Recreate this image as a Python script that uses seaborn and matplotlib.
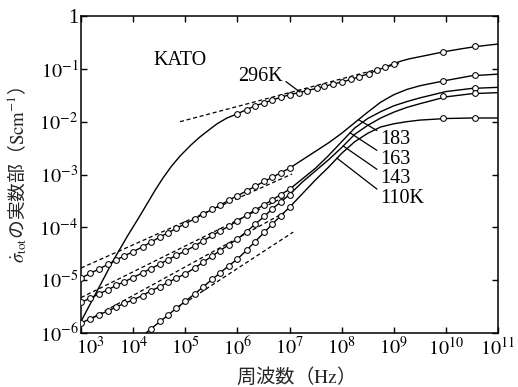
import numpy as np
import matplotlib
matplotlib.use("Agg")
import matplotlib.pyplot as plt
import matplotlib.transforms as mtransforms
import seaborn as sns

# ---------------------------------------------------------------
# Data: log10(frequency / Hz) and log10(conductivity / S cm^-1)
# ---------------------------------------------------------------
# measured points below 10 MHz (shared frequency grid)
log_f_low = [3.00, 3.18, 3.34, 3.52, 3.67, 3.83, 4.00, 4.18, 4.34, 4.52,
             4.67, 4.83, 5.00, 5.18, 5.34, 5.52, 5.67, 5.83, 6.00, 6.18,
             6.34, 6.52, 6.67, 6.83, 7.00]
log_s_183_low = [-4.96, -4.87, -4.79, -4.70, -4.62, -4.54, -4.46, -4.37, -4.28, -4.18,
                 -4.10, -4.02, -3.93, -3.84, -3.75, -3.66, -3.58, -3.49, -3.40, -3.31,
                 -3.22, -3.13, -3.05, -2.97, -2.88]
log_s_163_low = [-5.42, -5.34, -5.26, -5.18, -5.10, -5.03, -4.95, -4.86, -4.78, -4.69,
                 -4.61, -4.53, -4.45, -4.35, -4.26, -4.15, -4.07, -3.98, -3.88, -3.77,
                 -3.67, -3.57, -3.48, -3.38, -3.28]
log_s_143_low = [-5.81, -5.73, -5.66, -5.58, -5.51, -5.44, -5.37, -5.29, -5.20, -5.12,
                 -5.04, -4.96, -4.88, -4.77, -4.66, -4.54, -4.44, -4.33, -4.22, -4.08,
                 -3.94, -3.79, -3.65, -3.52, -3.38]
# 110 K is measured from about 20 kHz upward
log_f_110_low = [4.15, 4.34, 4.52, 4.67, 4.83, 5.00, 5.18, 5.34, 5.52, 5.67,
                 5.83, 6.00, 6.18, 6.34, 6.52, 6.67, 6.83, 7.00]
log_s_110_low = [-6.08, -5.92, -5.78, -5.66, -5.53, -5.40, -5.26, -5.13, -4.98, -4.86,
                 -4.73, -4.60, -4.43, -4.27, -4.09, -3.94, -3.78, -3.62]

# smooth curves above 10 MHz
log_f_high = [7.25, 7.50, 7.75, 8.00, 8.25, 8.50, 8.75, 9.00, 9.25, 9.50,
              10.00, 10.50, 11.00]
log_s_183_high = [-2.72, -2.56, -2.40, -2.22, -2.02, -1.82, -1.63, -1.49, -1.39, -1.32,
                  -1.22, -1.13, -1.10]
log_s_163_high = [-3.08, -2.88, -2.64, -2.38, -2.12, -1.94, -1.81, -1.70, -1.62, -1.55,
                  -1.43, -1.37, -1.35]
log_s_143_high = [-3.14, -2.93, -2.72, -2.49, -2.24, -2.07, -1.93, -1.82, -1.73, -1.66,
                  -1.53, -1.47, -1.45]
log_s_110_high = [-3.36, -3.10, -2.86, -2.60, -2.38, -2.22, -2.10, -2.04, -2.00, -1.97,
                  -1.94, -1.93, -1.93]

# 296 K: steep low-frequency rise, measured region, high-frequency tail
log_f_296_rise = [3.00, 3.30, 3.60, 3.90, 4.10, 4.27, 4.42, 4.57, 4.73, 4.90,
                  5.10, 5.28, 5.45, 5.61, 5.80]
log_s_296_rise = [-5.78, -5.22, -4.66, -4.15, -3.83, -3.55, -3.30, -3.07, -2.85, -2.65,
                  -2.45, -2.29, -2.16, -2.04, -1.93]
log_f_296_mid = [6.00, 6.18, 6.34, 6.52, 6.67, 6.83, 7.00, 7.18, 7.34, 7.52,
                 7.67, 7.83, 8.00, 8.18, 8.34, 8.52, 8.67, 8.83, 9.00]
log_s_296_mid = [-1.85, -1.77, -1.70, -1.64, -1.59, -1.54, -1.49, -1.45, -1.41, -1.37,
                 -1.33, -1.29, -1.25, -1.20, -1.15, -1.09, -1.03, -0.97, -0.90]
log_f_296_tail = [9.15, 9.30, 9.50, 9.75, 10.00, 10.30, 10.56, 11.00]
log_s_296_tail = [-0.85, -0.81, -0.77, -0.72, -0.67, -0.62, -0.58, -0.53]

# microwave points
log_f_mw = [9.95, 10.56]
log_s_296_mw = [-0.69, -0.57]
log_s_183_mw = [-1.23, -1.12]
log_f_163_mw = [10.56]
log_s_163_mw = [-1.36]
log_s_143_mw = [-1.52, -1.46]
log_s_110_mw = [-1.93, -1.93]

# power-law guide lines (end points)
guide_296 = ([4.90, 9.10], [-2.00, -0.90])
guide_183 = ([3.00, 7.05], [-4.77, -2.99])
guide_163 = ([3.00, 6.95], [-5.33, -3.40])
guide_143 = ([3.00, 6.90], [-5.83, -3.72])
guide_110 = ([4.85, 7.07], [-5.52, -4.09])

# axis ticks
x_ticks = [1e3, 1e4, 1e5, 1e6, 1e7, 1e8, 1e9, 1e10, 1e11]
x_tick_labels = [r"$10^{3}$", r"$10^{4}$", r"$10^{5}$", r"$10^{6}$", r"$10^{7}$",
                 r"$10^{8}$", r"$10^{9}$", r"$10^{10}$", r"$10^{11}$"]
y_ticks = [1e-6, 1e-5, 1e-4, 1e-3, 1e-2, 1e-1, 1]
y_tick_labels = [r"$10^{-6}$", r"$10^{-5}$", r"$10^{-4}$", r"$10^{-3}$",
                 r"$10^{-2}$", r"$10^{-1}$", "1"]

# ---------------------------------------------------------------
sns.set_theme(style="ticks")
plt.rcParams["font.family"] = ["Liberation Serif", "Noto Sans CJK JP"]
plt.rcParams["mathtext.fontset"] = "stix"
plt.rcParams["axes.edgecolor"] = "black"
plt.rcParams["xtick.color"] = "black"
plt.rcParams["ytick.color"] = "black"
plt.rcParams["text.color"] = "black"

fig = plt.figure(figsize=(5.18, 3.87), dpi=100)
ax = fig.add_axes([0.1564, 0.1395, 0.8050, 0.8191])
ax.set_xscale("log")
ax.set_yscale("log")


def pw(v):
    return np.power(10.0, np.asarray(v, dtype=float))


def solid(lf, ls):
    sns.lineplot(x=pw(lf), y=pw(ls), ax=ax, color="black", linewidth=1.0,
                 estimator=None, sort=False, zorder=2)


def dashed(guide):
    sns.lineplot(x=pw(guide[0]), y=pw(guide[1]), ax=ax, color="black",
                 linewidth=0.9, linestyle=(0, (3.2, 2.2)),
                 estimator=None, sort=False, zorder=2)


def circles(lf, ls):
    sns.scatterplot(x=pw(lf), y=pw(ls), ax=ax, s=17, color="white",
                    edgecolor="black", linewidth=0.75, zorder=3, legend=False)


# solid curves
solid(log_f_296_rise + log_f_296_mid + log_f_296_tail,
      log_s_296_rise + log_s_296_mid + log_s_296_tail)
solid(log_f_low + log_f_high, log_s_183_low + log_s_183_high)
solid(log_f_low + log_f_high, log_s_163_low + log_s_163_high)
solid(log_f_low + log_f_high, log_s_143_low + log_s_143_high)
solid(log_f_110_low + log_f_high, log_s_110_low + log_s_110_high)

# guide lines
for g in (guide_296, guide_183, guide_163, guide_143, guide_110):
    dashed(g)

# measured points
circles(log_f_296_mid, log_s_296_mid)
circles(log_f_low, log_s_183_low)
circles(log_f_low, log_s_163_low)
circles(log_f_low, log_s_143_low)
circles(log_f_110_low[1:], log_s_110_low[1:])
circles(log_f_mw, log_s_296_mw)
circles(log_f_mw, log_s_183_mw)
circles(log_f_163_mw, log_s_163_mw)
circles(log_f_mw, log_s_143_mw)
circles(log_f_mw, log_s_110_mw)

# axes
ax.set_xlim(1e3, 1e11)
ax.set_ylim(1e-6, 1)
ax.set_xticks(x_ticks)
ax.set_xticklabels(x_tick_labels)
ax.set_yticks(y_ticks)
ax.set_yticklabels(y_tick_labels)
ax.minorticks_off()
ax.tick_params(direction="in", top=True, right=True, length=4, width=1.0,
               labelsize=14.5)
ax.tick_params(axis="y", pad=2)
ax.tick_params(axis="x", pad=3)
for sp in ax.spines.values():
    sp.set_linewidth(1.1)
    sp.set_color("black")

# nudge the first frequency label right so it clears the 10^-6 label
first = ax.get_xticklabels()[0]
first.set_transform(first.get_transform()
                    + mtransforms.ScaledTranslation(7 / 72, 0, fig.dpi_scale_trans))

ax.set_xlabel(r"周波数（$\mathrm{Hz}$）", fontsize=14,
              fontfamily="Noto Sans CJK JP")
ax.set_ylabel(r"$\dot{\sigma}_{\mathrm{tot}}$の実数部（$\mathrm{Scm}^{-1}$）",
              fontsize=13.5, fontfamily="Noto Sans CJK JP")
ax.xaxis.set_label_coords(0.501, -0.139)
ax.xaxis.label.set_verticalalignment("center")
ax.yaxis.set_label_coords(-0.152, 0.5)
ax.yaxis.label.set_verticalalignment("center")

# annotations
ax.text(pw(4.38), pw(-0.85), "KATO", fontsize=14.5, ha="left", va="center")
ax.annotate("296K", xy=(pw(7.20), pw(-1.44)), xytext=(pw(6.01), pw(-1.14)),
            fontsize=14.5, ha="left", va="center",
            arrowprops=dict(arrowstyle="-", lw=0.9, color="black",
                            shrinkA=0, shrinkB=0, relpos=(1.0, 0.35)))

label_text = ["183", "163", "143", "110K"]
label_touch = [(8.32, -1.96), (8.16, -2.21), (8.03, -2.46), (7.91, -2.69)]
label_pos = [(8.74, -2.33), (8.74, -2.71), (8.74, -3.07), (8.74, -3.45)]
for txt, (tx, ty), (px, py) in zip(label_text, label_touch, label_pos):
    ax.annotate(txt, xy=(pw(tx), pw(ty)), xytext=(pw(px), pw(py)),
                fontsize=14.5, ha="left", va="center",
                arrowprops=dict(arrowstyle="-", lw=0.9, color="black",
                                shrinkA=0, shrinkB=0, relpos=(0.0, 0.85)))

fig.savefig("out.png", dpi=100)
